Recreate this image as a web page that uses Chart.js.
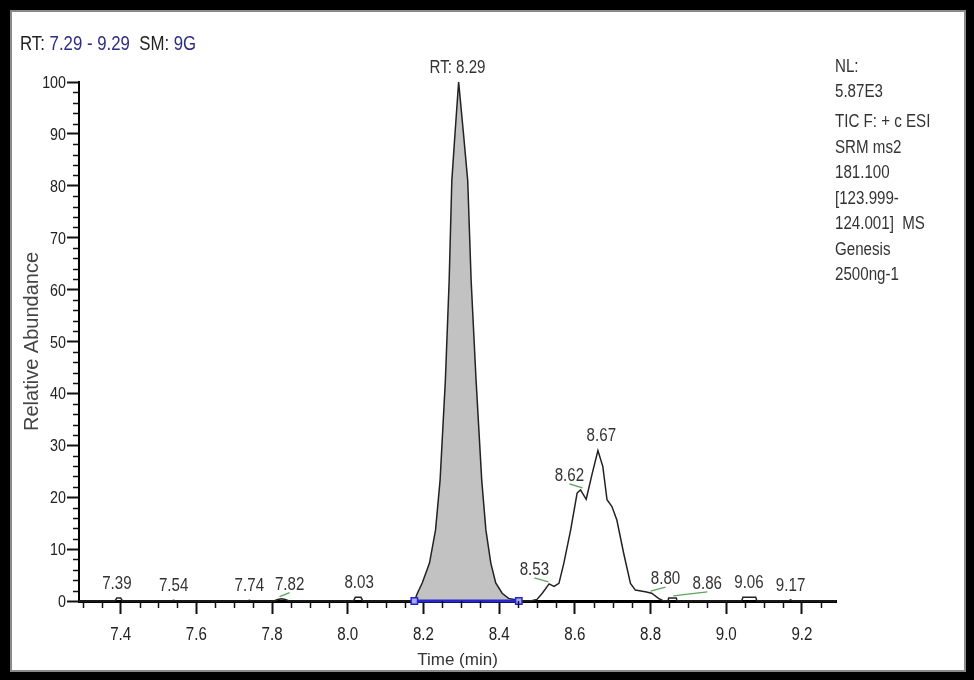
<!DOCTYPE html>
<html>
<head>
<meta charset="utf-8">
<script src="https://cdn.jsdelivr.net/npm/chart.js@4.4.1/dist/chart.umd.min.js"></script>
<style>
html, body { margin: 0; padding: 0; background: #000; width: 974px; height: 680px; overflow: hidden; }
#frame { position: absolute; left: 10px; top: 10px; width: 956px; height: 662px; background: #fff; border: 2px solid #8a8a8a; box-sizing: border-box; }
#chart { position: absolute; left: 0; top: 0; }
</style>
</head>
<body>
<div id="frame"></div>
<canvas id="chart" width="974" height="680"></canvas>
<script>
// chromatogram trace (time in min, relative abundance in %)
const timeMin = [
    7.29, 7.385, 7.390, 7.400, 7.405, 7.535, 7.540, 7.545, 7.735, 7.740, 7.745,
    7.805, 7.815, 7.825, 7.835, 7.845, 8.015, 8.020, 8.035, 8.040,
    8.176, 8.184, 8.197, 8.216, 8.232, 8.244, 8.258, 8.268, 8.275, 8.284, 8.293,
    8.305, 8.317, 8.326, 8.339, 8.354, 8.365, 8.378, 8.391, 8.408, 8.425, 8.440, 8.452,
    8.483, 8.500, 8.514, 8.532, 8.545, 8.558, 8.571, 8.589, 8.606, 8.615, 8.630, 8.646,
    8.661, 8.674, 8.685, 8.698, 8.711, 8.729, 8.747, 8.760, 8.786, 8.803, 8.821, 8.834,
    8.846, 8.848, 8.868, 8.870, 9.041, 9.044, 9.078, 9.081, 9.165, 9.170, 9.175, 9.29,
];
const abundance = [
    0, 0, 0.6, 0.6, 0, 0, 0.15, 0, 0, 0.15, 0,
    0, 0.3, 0.45, 0.3, 0, 0, 0.7, 0.7, 0,
    0, 1.5, 3.5, 7.3, 13.7, 23.3, 42.6, 61.8, 81.0, 90.7, 100,
    90.7, 81.0, 61.8, 42.6, 23.3, 13.7, 7.3, 3.5, 1.5, 0.5, 0.3, 0,
    0, 0.3, 1.5, 3.3, 2.8, 3.4, 7.3, 13.7, 20.8, 21.4, 19.6, 24.6,
    29.0, 25.9, 19.5, 18.2, 15.6, 9.2, 3.4, 2.1, 1.8, 1.5, 0.5, 0,
    0, 0.6, 0.6, 0, 0, 0.7, 0.7, 0, 0, 0.2, 0, 0,
];

// integrated peak window
const integStart = 8.176;
const integEnd = 8.452;

// peak labels: apex time and apex height
const labelTimes = [7.39, 7.54, 7.74, 7.82, 8.03, 8.29, 8.53, 8.62, 8.67, 8.80, 8.86, 9.06, 9.17];
const labelHeights = [0.6, 0.15, 0.15, 0.45, 0.7, 100, 3.3, 21.4, 29.0, 1.5, 0.6, 0.7, 0.2];

// axis ticks
const xMajorTicks = [7.4, 7.6, 7.8, 8.0, 8.2, 8.4, 8.6, 8.8, 9.0, 9.2];

const infoLines = ["NL:", "5.87E3", "TIC F: + c ESI", "SRM ms2", "181.100", "[123.999-", "124.001]  MS", "Genesis", "2500ng-1"];

// ---- layout / style ----
const labelNudge = { "7.82": 10, "8.53": -14, "8.62": -13, "8.80": 15, "8.86": 34 };
const infoY = [72, 97, 127, 153, 178, 204, 229, 255, 280];

// the picture uses a condensed face; squeeze a regular one when no narrow face is installed
function hasFont(name) {
    const c = document.createElement("canvas").getContext("2d");
    const s = "0123456789 RTSM abc";
    c.font = "40px monospace";
    const base = c.measureText(s).width;
    c.font = `40px "${name}", monospace`;
    return c.measureText(s).width !== base;
}
const NARROW = hasFont("Liberation Sans Narrow");
const FAMILY = NARROW ? "'Liberation Sans Narrow', 'Liberation Sans', Arial, sans-serif" : "'Liberation Sans', Arial, sans-serif";
const WIDE = "'Liberation Sans', Arial, sans-serif";
const SQUEEZE = NARROW ? 1 : 0.84;

function drawText(ctx, text, x, y, align, color, size) {
    ctx.save();
    ctx.fillStyle = color;
    ctx.font = `${size}px ${FAMILY}`;
    ctx.textAlign = align;
    ctx.textBaseline = "alphabetic";
    ctx.translate(x, y);
    ctx.scale(SQUEEZE, 1);
    ctx.fillText(text, 0, 0);
    ctx.restore();
}
function textWidth(ctx, text, size) {
    ctx.save();
    ctx.font = `${size}px ${FAMILY}`;
    const w = ctx.measureText(text).width * SQUEEZE;
    ctx.restore();
    return w;
}

const tracePts = timeMin.map((t, i) => ({ x: t, y: abundance[i] }));
const areaPts = tracePts.filter((p) => p.x >= integStart && p.x <= integEnd);
const basePts = [{ x: integStart, y: 0 }, { x: integEnd, y: 0 }];

const annotate = {
    id: "annotate",
    afterDraw(chart) {
        const ctx = chart.ctx;
        const xs = chart.scales.x;
        const ys = chart.scales.y;

        // minor ticks
        ctx.save();
        ctx.strokeStyle = "#111";
        ctx.lineWidth = 1.5;
        ctx.beginPath();
        for (let k = Math.ceil(xs.min / 0.05); k <= Math.floor(xs.max / 0.05); k++) {
            if (k % 4 === 0) continue;
            const px = Math.round(xs.getPixelForValue(k * 0.05)) + 0.5;
            ctx.moveTo(px, xs.top);
            ctx.lineTo(px, xs.top + 7);
        }
        for (let v = 0; v <= 100; v += 2) {
            if (v % 10 === 0) continue;
            const py = Math.round(ys.getPixelForValue(v)) + 0.5;
            ctx.moveTo(ys.right, py);
            ctx.lineTo(ys.right - 6, py);
        }
        ctx.stroke();
        ctx.restore();

        // tick labels (condensed, from the scales' own ticks)
        xs.ticks.forEach((t) => {
            drawText(ctx, t.value.toFixed(1), xs.getPixelForValue(t.value), xs.top + 39, "center", "#222", 18);
        });
        ys.ticks.forEach((t) => {
            drawText(ctx, String(t.value), ys.right - 13, ys.getPixelForValue(t.value) + 6, "right", "#222", 17);
        });

        // peak labels
        labelTimes.forEach((t, i) => {
            const key = t.toFixed(2);
            const nudge = labelNudge[key] || 0;
            const ax = xs.getPixelForValue(t);
            const ay = ys.getPixelForValue(labelHeights[i]);
            const lx = ax + nudge;
            const ly = ay - 9;
            const text = key === "8.29" ? "RT: " + key : key;
            drawText(ctx, text, lx, ly, "center", "#333", 18);
            if (nudge !== 0) {
                ctx.save();
                ctx.strokeStyle = "#5aa55a";
                ctx.lineWidth = 1.3;
                ctx.beginPath();
                ctx.moveTo(ax, ay - 2);
                ctx.lineTo(lx, ly + 3);
                ctx.stroke();
                ctx.restore();
            }
        });

        // header
        const parts = [["RT: ", "#222"], ["7.29 - 9.29", "#2d2d86"], ["  SM: ", "#222"], ["9G", "#2d2d86"]];
        let hx = 20;
        parts.forEach(([s, c]) => {
            drawText(ctx, s, hx, 50, "left", c, 20);
            hx += textWidth(ctx, s, 20);
        });

        // info block
        infoLines.forEach((s, i) => drawText(ctx, s, 835, infoY[i], "left", "#333", 18));
    },
};

new Chart(document.getElementById("chart"), {
    type: "line",
    data: {
        datasets: [
            {
                data: basePts,
                borderColor: "#2626d0",
                borderWidth: 3,
                pointStyle: "rect",
                pointRadius: 4.5,
                pointBorderColor: "#2626d0",
                pointBorderWidth: 1.5,
                pointBackgroundColor: "#a8a8f0",
                clip: false,
                order: 0,
            },
            {
                data: tracePts,
                borderColor: "#222",
                borderWidth: 1.5,
                pointRadius: 0,
                fill: false,
                tension: 0,
                clip: false,
                order: 1,
            },
            {
                data: areaPts,
                borderWidth: 0,
                pointRadius: 0,
                fill: "origin",
                backgroundColor: "#c2c2c2",
                tension: 0,
                order: 2,
            },
        ],
    },
    options: {
        responsive: false,
        animation: false,
        events: [],
        layout: { padding: { left: 0, top: 82, right: 138, bottom: 0 } },
        plugins: { legend: { display: false }, tooltip: { enabled: false } },
        scales: {
            x: {
                type: "linear",
                min: 7.29,
                max: 9.29,
                bounds: "data",
                afterFit: (s) => { s.height = 79; },
                afterBuildTicks: (s) => { s.ticks = xMajorTicks.map((v) => ({ value: v })); },
                border: { display: true, color: "#000", width: 3 },
                grid: { drawOnChartArea: false, drawTicks: true, tickLength: 13, tickWidth: 2, tickColor: "#111" },
                ticks: { display: false, autoSkip: false, maxRotation: 0 },
                title: { display: true, text: "Time (min)", color: "#333", font: { family: WIDE, size: 17 }, padding: { top: 0, bottom: 9 } },
            },
            y: {
                min: 0,
                max: 100,
                afterFit: (s) => { s.width = 79; },
                border: { display: true, color: "#000", width: 2 },
                grid: { drawOnChartArea: false, drawTicks: true, tickLength: 12, tickWidth: 2, tickColor: "#111" },
                ticks: { display: false, stepSize: 10 },
                title: { display: true, text: "Relative Abundance", color: "#444", font: { family: WIDE, size: 20 }, padding: { top: 20, bottom: 0 } },
            },
        },
    },
    plugins: [annotate],
});
</script>
</body>
</html>
